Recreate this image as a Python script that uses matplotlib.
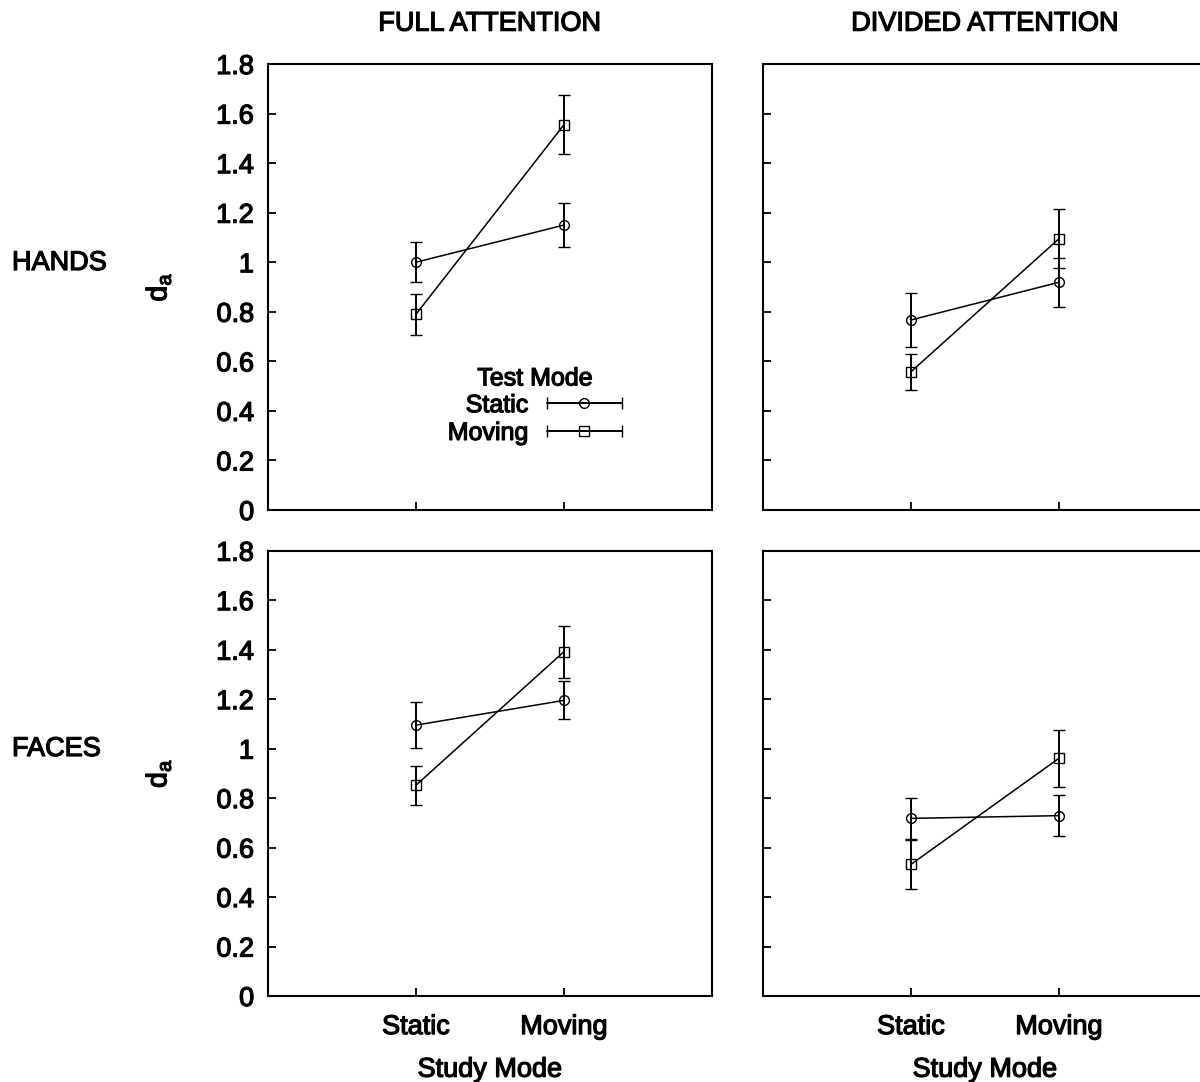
import matplotlib
matplotlib.use("Agg")
import matplotlib.pyplot as plt
import matplotlib.patheffects as pe
from matplotlib.container import ErrorbarContainer
from matplotlib.legend_handler import HandlerErrorbar
import numpy as np

plt.rcParams['font.family'] = ['Liberation Sans', 'DejaVu Sans']
plt.rcParams['mathtext.fontset'] = 'custom'
plt.rcParams['mathtext.rm'] = 'Liberation Sans'
plt.rcParams['mathtext.it'] = 'Liberation Sans'
plt.rcParams['mathtext.bf'] = 'Liberation Sans:bold'

# ---- data ----
study_modes = ["Static", "Moving"]
col_titles = ["FULL ATTENTION", "DIVIDED ATTENTION"]
row_labels = ["HANDS", "FACES"]
test_modes = ["Static", "Moving"]
y_ticks = [0, 0.2, 0.4, 0.6, 0.8, 1.0, 1.2, 1.4, 1.6, 1.8]
y_tick_labels = ["0", "0.2", "0.4", "0.6", "0.8", "1", "1.2", "1.4", "1.6", "1.8"]

hands_full_static = [1.00, 1.15]
hands_full_static_err = [0.08, 0.09]
hands_full_moving = [0.79, 1.555]
hands_full_moving_err = [0.083, 0.12]

hands_div_static = [0.767, 0.919]
hands_div_static_err = [0.11, 0.10]
hands_div_moving = [0.558, 1.095]
hands_div_moving_err = [0.072, 0.12]

faces_full_static = [1.095, 1.195]
faces_full_static_err = [0.093, 0.077]
faces_full_moving = [0.852, 1.392]
faces_full_moving_err = [0.078, 0.105]

faces_div_static = [0.718, 0.729]
faces_div_static_err = [0.083, 0.082]
faces_div_moving = [0.532, 0.961]
faces_div_moving_err = [0.10, 0.115]

panels = [
    [(hands_full_static, hands_full_static_err, hands_full_moving, hands_full_moving_err),
     (hands_div_static, hands_div_static_err, hands_div_moving, hands_div_moving_err)],
    [(faces_full_static, faces_full_static_err, faces_full_moving, faces_full_moving_err),
     (faces_div_static, faces_div_static_err, faces_div_moving, faces_div_moving_err)],
]

W, H = 1200, 1082
fig = plt.figure(figsize=(W / 100, H / 100), dpi=100)

FS = 19.5
LFS = 18
heavy = [pe.withStroke(linewidth=0.9, foreground='black')]

ax_w = 444 / W
lefts = [268 / W, 763 / W]
row_top_bot = [(64, 510), (550.7, 996)]

eb_style = dict(color='black', lw=1.1, markersize=7, markerfacecolor='none',
                markeredgewidth=1.0, elinewidth=1.4, capsize=4, capthick=1.4)

x_pos = np.array([1, 2])
axes = [[None, None], [None, None]]
for r in range(2):
    top, bot = row_top_bot[r]
    for c in range(2):
        ax = fig.add_axes([lefts[c], 1 - bot / H, ax_w, (bot - top) / H])
        axes[r][c] = ax
        s, se, m, me = panels[r][c]
        ax.errorbar(x_pos, s, yerr=se, fmt='-o', **eb_style)
        ax.errorbar(x_pos, m, yerr=me, fmt='-s', **eb_style)
        ax.set_xlim(0, 3)
        ax.set_ylim(0, 1.8)
        ax.set_yticks(y_ticks)
        ax.set_xticks(x_pos)
        for sp in ax.spines.values():
            sp.set_linewidth(1.5)
        ax.tick_params(direction='in', length=6, width=1.3, labelsize=FS)
        ax.tick_params(axis='y', pad=10)
        ax.tick_params(axis='x', pad=13)
        if c == 0:
            ax.set_yticklabels(y_tick_labels)
            yl = ax.set_ylabel(r'$\mathregular{d_a}$', fontsize=FS + 1)
            yl.set_path_effects(heavy)
            ax.yaxis.set_label_coords(-0.214, 0.5)
        else:
            ax.set_yticklabels([])
        if r == 1:
            ax.set_xticklabels(study_modes)
            xl = ax.set_xlabel("Study Mode", fontsize=FS, labelpad=12)
            xl.set_path_effects(heavy)
        else:
            ax.set_xticklabels([])
        if r == 0:
            t = ax.set_title(col_titles[c], fontsize=FS, pad=24)
            t.set_path_effects(heavy)
        for lab in ax.get_xticklabels() + ax.get_yticklabels():
            lab.set_path_effects(heavy)

# row labels
for lab, yy in zip(row_labels, [263, 749]):
    t = fig.text(12 / W, 1 - yy / H, lab, fontsize=FS, ha='left', va='center')
    t.set_path_effects(heavy)

# legend (horizontal error-bar handles)
ax0 = axes[0][0]
h_static = ax0.errorbar([np.nan], [np.nan], xerr=[1], fmt='-o', **eb_style)
h_moving = ax0.errorbar([np.nan], [np.nan], xerr=[1], fmt='-s', **eb_style)
leg = ax0.legend([h_static, h_moving], test_modes, title="Test Mode",
                 loc='upper right', bbox_to_anchor=(0.797, 0.322), frameon=False,
                 markerfirst=False, numpoints=1, handlelength=3.0, handletextpad=0.75,
                 labelspacing=0.15, borderpad=0, borderaxespad=0,
                 prop={'size': LFS},
                 title_fontproperties={'size': LFS},
                 handler_map={ErrorbarContainer: HandlerErrorbar(xerr_size=1.5)})
leg._legend_box.sep = 2
for txt in leg.get_texts() + [leg.get_title()]:
    txt.set_path_effects(heavy)

fig.savefig("out.png", dpi=100)
